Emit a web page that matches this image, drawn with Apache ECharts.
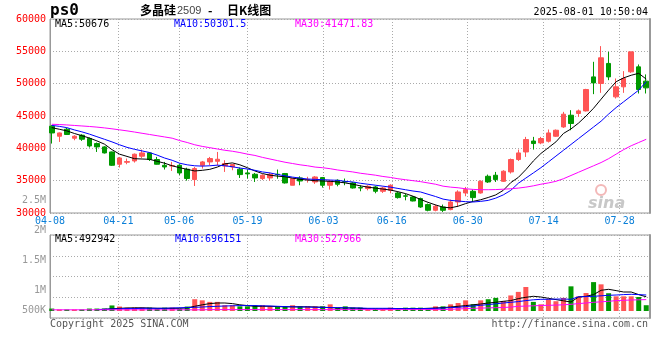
<!DOCTYPE html>
<html><head><meta charset="utf-8">
<script src="https://cdn.jsdelivr.net/npm/echarts@6/dist/echarts.min.js"></script>
<style>html,body{margin:0;padding:0;background:#fff}#c{width:660px;height:360px}</style>
</head><body><div id="c"></div>
<script>
const dates = ['04-08','04-09','04-10','04-11','04-14','04-15','04-16','04-17','04-18','04-21','04-22','04-23','04-24','04-25','04-28','04-29','04-30',
'05-06','05-07','05-08','05-09','05-12','05-13','05-14','05-15','05-16','05-19','05-20','05-21','05-22','05-23','05-26','05-27','05-28','05-29','05-30',
'06-03','06-04','06-05','06-06','06-09','06-10','06-11','06-12','06-13','06-16','06-17','06-18','06-19','06-20','06-23','06-24','06-25','06-26','06-27','06-30',
'07-01','07-02','07-03','07-04','07-07','07-08','07-09','07-10','07-11','07-14','07-15','07-16','07-17','07-18','07-21','07-22','07-23','07-24','07-25','07-28','07-29','07-30','07-31',
'08-01'];
const tickLabels = ['04-08','04-21','05-06','05-19','06-03','06-16','06-30','07-14','07-28'];
const volTickLabels = ['500K','1M','1.5M','2M','2.5M'];

const openP  = [43420,41870,42960,41560,42030,41520,40740,40220,39440,37540,37850,38050,38780,39290,38270,37380,37280,37380,36770,35170,37380,37900,38000,37280,37120,36770,36200,35990,35330,35420,35990,36100,34290,35420,35150,34800,35480,34290,35060,34850,34650,33930,33780,34030,33360,33510,33100,32650,32480,32230,31300,30420,30930,30530,31700,33100,33360,33100,35680,35840,34900,36350,38270,39440,41130,40840,41100,41870,43310,45120,45390,45790,51050,50030,53130,47960,49510,51830,52600,50390];
const closeP = [42380,42380,42140,41870,41410,40370,40220,39290,37380,38510,37950,39090,39290,38270,37540,37120,37330,36190,35330,36870,37900,38420,38310,37650,37490,35940,36050,35420,35840,35990,35940,34650,35330,34950,35200,35570,34290,34950,34440,34800,33870,33870,34130,33360,33870,34290,32380,32600,31860,30930,30420,31040,30420,31700,33250,33620,32380,34900,34800,35170,36460,38270,39290,41360,40740,41520,42380,42800,45280,43840,45790,49100,50120,54000,51050,49510,50800,54920,49100,49350];
const lowP   = [40740,40990,42100,41250,41150,40120,39440,39200,37280,37030,37540,37800,38510,38050,37500,36720,36500,35880,35000,34180,36870,37380,37380,36350,36610,35420,35330,34800,35100,35000,35300,34550,34290,34290,34700,34500,33930,33620,34130,34290,33780,33360,33500,33050,33100,33050,32230,31960,31800,30800,30260,30260,30160,30420,30930,32590,31700,33000,34650,34800,34800,36100,38050,38670,39810,40640,40900,41770,43160,42800,44860,45700,48380,48580,50540,47710,48580,51670,48480,48480];
const highP  = [43580,42450,43160,42030,42180,41670,40900,40330,39500,38670,38420,39200,39810,39400,38670,37900,37900,37540,37000,37120,38050,38670,39440,38160,37600,37030,36720,36190,35990,36190,36720,36190,35330,35680,35600,35700,35570,35060,35200,35330,34800,34290,34290,34200,34030,34440,33250,33000,32600,32380,31460,31300,31300,32080,33510,34030,33620,35060,35940,36350,36610,38420,39810,41770,41770,41770,42910,42910,45640,45900,46000,49200,53380,55810,54920,50800,51940,54920,52970,51430];

const ma5  = [43200,42950,42700,42300,41950,41600,41150,40650,39800,39100,38750,38400,38350,38300,38000,37700,37300,37000,36750,36500,36600,36750,37100,37600,37750,37450,37000,36500,36100,35850,35700,35600,35400,35200,35100,35000,34950,34900,34800,34650,34450,34200,34000,33850,33700,33550,33300,33000,32600,32100,31650,31250,30900,30800,31050,31450,31800,32050,32400,32800,33500,34700,35500,36700,38050,39200,40100,41000,42300,43000,43900,45000,46200,47600,49000,50300,50900,51300,51600,50700];
const ma10 = [43550,43400,43200,42850,42550,42200,41800,41400,41000,40550,40150,39850,39600,39350,38950,38500,38150,37700,37450,37300,37250,37300,37400,37300,37150,36950,36800,36600,36350,36200,35950,35750,35550,35400,35250,35200,35150,35100,35050,34900,34800,34600,34450,34300,34150,34000,33800,33600,33400,33250,32900,32550,32150,31950,31850,31750,31700,31800,31950,32300,32800,33500,34600,35400,36200,37000,37900,38800,39700,40600,41500,42400,43300,44200,45300,46300,47200,48100,49000,50300];
const ma30 = [43720,43680,43620,43540,43460,43380,43280,43160,43020,42860,42700,42520,42330,42140,41950,41760,41570,41200,40900,40550,40300,40100,39900,39700,39550,39350,39100,38900,38600,38350,38100,37850,37650,37450,37300,37100,37000,36850,36650,36500,36350,36150,36000,35850,35650,35500,35300,35150,35000,34850,34650,34450,34150,34000,33900,33750,33650,33600,33600,33620,33680,33750,33850,34000,34200,34450,34650,34900,35300,35800,36300,36800,37300,37800,38400,39100,39800,40400,40900,41400];

const volume = [110000,70000,70000,70000,70000,110000,110000,110000,250000,200000,150000,150000,150000,150000,110000,150000,150000,90000,200000,530000,480000,410000,410000,260000,260000,210000,210000,260000,260000,210000,210000,210000,260000,210000,210000,210000,210000,300000,150000,210000,150000,150000,110000,110000,110000,150000,110000,150000,150000,150000,110000,210000,210000,300000,360000,480000,300000,480000,530000,590000,450000,700000,860000,1080000,410000,300000,530000,440000,590000,1110000,660000,810000,1300000,1200000,800000,660000,660000,660000,630000,260000];
const volMa5  = [null,null,null,null,null,null,63000,76500,99000,121500,135000,144000,144000,135000,121500,121500,121500,121500,144000,211500,279000,333000,360000,360000,333000,279000,243000,211500,211500,211500,198000,189000,189000,189000,189000,180000,166500,153000,135000,135000,135000,121500,99000,90000,90000,99000,108000,108000,108000,108000,121500,135000,153000,180000,211500,243000,279000,315000,360000,391500,436500,468000,558000,616500,661500,630000,571500,513000,459000,405000,630000,661500,738000,931500,976500,918000,855000,855000,738000,639000];
const volMa10 = [null,null,null,null,null,null,63000,76500,90000,99000,108000,108000,121500,121500,121500,121500,135000,144000,153000,166500,180000,198000,211500,225000,234000,243000,243000,243000,234000,225000,211500,198000,189000,180000,180000,166500,166500,153000,153000,144000,135000,135000,121500,121500,121500,121500,108000,108000,108000,108000,108000,121500,135000,153000,166500,198000,225000,256500,288000,324000,360000,391500,423000,468000,504000,526500,526500,535500,540000,526500,639000,648000,661500,684000,706500,720000,738000,751500,738000,720000];
const volMa30 = [54000,54000,54000,54000,54000,54000,54000,54000,54000,54000,54000,54000,54000,54000,54000,54000,54000,54000,54000,54000,54000,63000,63000,63000,63000,63000,63000,63000,63000,63000,63000,63000,63000,63000,63000,63000,63000,63000,63000,63000,63000,63000,63000,63000,63000,63000,63000,63000,63000,63000,63000,63000,63000,76500,90000,108000,121500,130500,139500,148500,157500,175500,211500,220500,234000,247500,256500,265500,279000,301500,333000,360000,391500,414000,436500,468000,481500,495000,504000,513000];

const headerTitle = '多晶硅';
const headerCode = '2509';
const headerKind = '日K线图';
const headerTime = '2025-08-01 10:50:04';
const priceMaText = ['MA5:50676','MA10:50301.5','MA30:41471.83'];
const volMaText = ['MA5:492942','MA10:696151','MA30:527966'];

const RED = '#ff5555', GREEN = '#009900';
const MONO = '"DejaVu Sans Mono", "Liberation Mono", monospace';
const showTick = (i, v) => tickLabels.indexOf(v) >= 0;
const dotted = {show: true, interval: showTick, lineStyle: {color: '#aaa', type: [1, 2], width: 1}};
const hDotted = {show: true, lineStyle: {color: '#aaa', type: [1, 2], width: 1}};

const candles = dates.map((d, i) => [openP[i], closeP[i], lowP[i], highP[i]]);

const chart = echarts.init(document.getElementById('c'), null, {renderer: 'canvas'});
const txt = (x, y, text, fill, font, align) => ({type: 'text', x: x, y: y, silent: true, z: 100,
  style: {text: text, fill: fill, font: font, align: align || 'left', verticalAlign: 'middle'}});

chart.setOption({
  animation: false,
  backgroundColor: '#fff',
  grid: [
    {left: 50, right: 10, top: 19, height: 194, show: true, borderColor: '#999', borderWidth: 1},
    {left: 48, right: 10, top: 19, height: 194},
    {left: 50, right: 10, top: 235, height: 83, show: true, borderColor: '#999', borderWidth: 1},
    {left: 48, right: 10, top: 235, height: 76},
    {left: 50, right: 10, top: 200, height: 120}
  ],
  xAxis: [
    {gridIndex: 0, type: 'category', data: dates, boundaryGap: false, axisLine: {show: false}, axisTick: {show: false},
     axisLabel: {interval: showTick, color: '#0a7fd8', fontSize: 10, fontFamily: MONO, margin: 3}, splitLine: dotted},
    {gridIndex: 1, type: 'category', data: dates, boundaryGap: true, show: false},
    {gridIndex: 2, type: 'category', data: dates, boundaryGap: false, axisLine: {show: false}, axisTick: {show: false},
     axisLabel: {show: false}, splitLine: dotted},
    {gridIndex: 3, type: 'category', data: dates, boundaryGap: true, show: false},
    {gridIndex: 4, type: 'category', data: dates, show: false}
  ],
  yAxis: [
    {gridIndex: 0, type: 'value', min: 30000, max: 60000, interval: 5000, axisLine: {show: true, lineStyle: {color: '#999'}},
     axisTick: {show: false}, axisLabel: {color: '#ff0000', fontSize: 10, fontFamily: MONO, margin: 4, formatter: v => String(v)},
     splitLine: hDotted},
    {gridIndex: 0, type: 'value', position: 'right', min: 30000, max: 60000, axisLine: {show: true, lineStyle: {color: '#999', width: 2}},
     axisTick: {show: false}, axisLabel: {show: false}, splitLine: {show: false}},
    {gridIndex: 1, type: 'value', min: 30000, max: 60000, show: false, splitLine: {show: false}},
    {gridIndex: 2, type: 'value', min: 0, max: 4, interval: 1, axisLine: {show: true, lineStyle: {color: '#999'}},
     axisTick: {show: false}, axisLabel: {show: false}, splitLine: hDotted},
    {gridIndex: 2, type: 'value', position: 'right', min: 0, max: 4, axisLine: {show: true, lineStyle: {color: '#999', width: 2}},
     axisTick: {show: false}, axisLabel: {show: false}, splitLine: {show: false}},
    {gridIndex: 3, type: 'value', min: 0, max: 3420000, show: false, splitLine: {show: false}},
    {gridIndex: 4, type: 'value', min: 500000, max: 2500000, interval: 500000, axisLine: {show: false}, axisTick: {show: false},
     splitLine: {show: false},
     axisLabel: {color: '#999', fontSize: 10, fontFamily: MONO, margin: 4, showMinLabel: true, showMaxLabel: true,
       formatter: function (v) {
         const k = Math.round((v - 500000) / 500000);
         const t = volTickLabels[k];
         return k === 0 ? '{lo|' + t + '}' : t;
       },
       rich: {lo: {color: '#999', fontSize: 10, fontFamily: MONO, padding: [0, 0, 20, 0]}}}}
  ],
  series: [
    {type: 'candlestick', xAxisIndex: 1, yAxisIndex: 2, data: candles, barWidth: 5,
     itemStyle: {color: RED, color0: GREEN, borderColor: RED, borderColor0: GREEN, borderWidth: 1}},
    {type: 'line', xAxisIndex: 1, yAxisIndex: 2, data: ma5, symbol: 'none', lineStyle: {color: '#000', width: 1}},
    {type: 'line', xAxisIndex: 1, yAxisIndex: 2, data: ma10, symbol: 'none', lineStyle: {color: '#0000ff', width: 1}},
    {type: 'line', xAxisIndex: 1, yAxisIndex: 2, data: ma30, symbol: 'none', lineStyle: {color: '#ff00ff', width: 1}},
    {type: 'bar', xAxisIndex: 3, yAxisIndex: 5, data: volume, barWidth: 5,
     itemStyle: {color: function (p) { return closeP[p.dataIndex] >= openP[p.dataIndex] ? RED : GREEN; }}},
    {type: 'line', xAxisIndex: 3, yAxisIndex: 5, data: volMa5, symbol: 'none', lineStyle: {color: '#000', width: 1}},
    {type: 'line', xAxisIndex: 3, yAxisIndex: 5, data: volMa10, symbol: 'none', lineStyle: {color: '#0000ff', width: 1}},
    {type: 'line', xAxisIndex: 3, yAxisIndex: 5, data: volMa30, symbol: 'none', lineStyle: {color: '#ff00ff', width: 1}},
    {type: 'line', xAxisIndex: 4, yAxisIndex: 6, data: [], symbol: 'none'}
  ],
  graphic: [
    txt(50, 11, 'ps0', '#000', 'bold 16px ' + MONO),
    txt(140, 10, headerTitle, '#000', 'bold 12px "Noto Sans CJK SC"'),
    txt(177, 11, headerCode, '#444', '11px "Liberation Sans"'),
    txt(208, 10, '-', '#000', 'bold 12px "Noto Sans CJK SC"'),
    txt(227, 10, headerKind, '#000', 'bold 12px "Noto Sans CJK SC"'),
    txt(648, 12, headerTime, '#000', '10px ' + MONO, 'right'),
    txt(55, 24, priceMaText[0], '#000', '10px ' + MONO),
    txt(174, 24, priceMaText[1], '#0000ff', '10px ' + MONO),
    txt(295, 24, priceMaText[2], '#ff00ff', '10px ' + MONO),
    txt(55, 239, volMaText[0], '#000', '10px ' + MONO),
    txt(175, 239, volMaText[1], '#0000ff', '10px ' + MONO),
    txt(295, 239, volMaText[2], '#ff00ff', '10px ' + MONO),
    txt(50, 324, 'Copyright 2025 SINA.COM', '#555', '10px ' + MONO),
    txt(648, 324, 'http://finance.sina.com.cn', '#555', '10px ' + MONO, 'right'),
    {type: 'circle', shape: {cx: 601, cy: 190, r: 5}, style: {fill: 'none', stroke: '#f3b8b8', lineWidth: 2}, z: 1, silent: true},
    txt(588, 204, 'sina', '#c8c8c8', 'italic bold 16px "DejaVu Sans"')
  ]
});
</script></body></html>
